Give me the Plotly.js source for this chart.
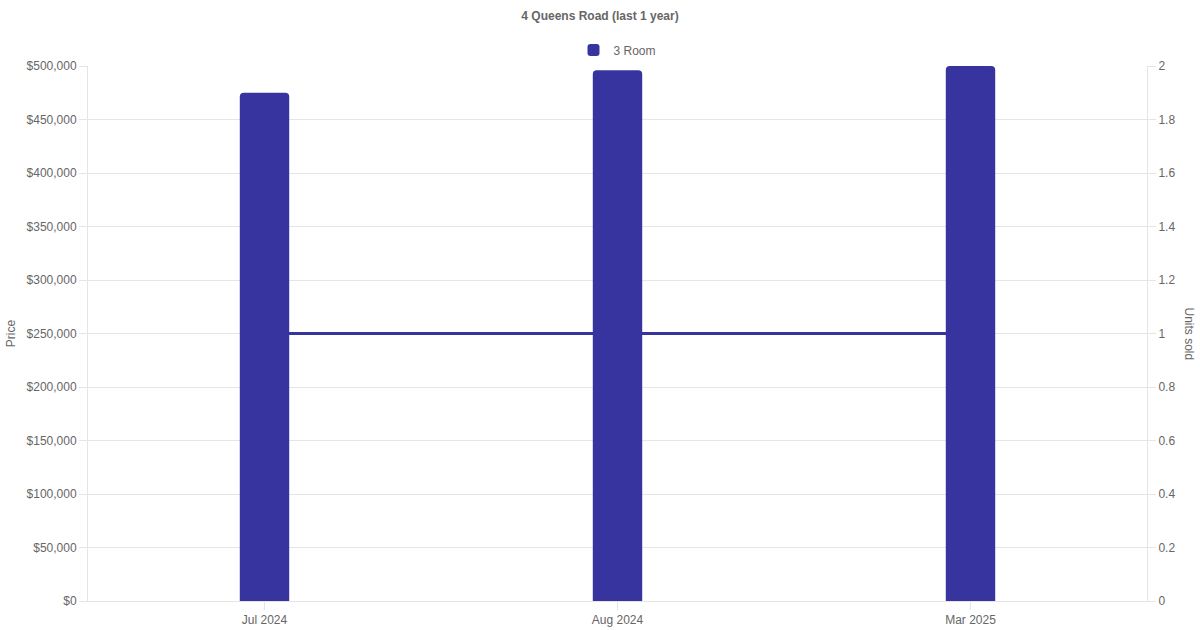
<!DOCTYPE html>
<html>
<head>
<meta charset="utf-8">
<script src="https://cdn.plot.ly/plotly-3.0.1.min.js"></script>
<style>
  html, body { margin: 0; padding: 0; background: #fff; }
  #chart { width: 1200px; height: 630px; }
</style>
</head>
<body>
<div id="chart"></div>
<script>
var months = ['Jul 2024', 'Aug 2024', 'Mar 2025'];
var prices = [475000, 496000, 500000];
var unitsSold = [1, 1, 1];
var seriesName = '3 Room';

var barColor = '#38349f';
var textColor = '#666666';
var gridColor = '#e5e5e5';

// line goes on the primary (right) axis so the bars overlay it
var data = [{
  x: months,
  y: unitsSold,
  type: 'scatter',
  mode: 'lines',
  name: seriesName,
  yaxis: 'y',
  line: {color: barColor, width: 3},
  showlegend: false,
  hoverinfo: 'skip'
}, {
  x: months,
  y: prices,
  type: 'bar',
  name: seriesName,
  yaxis: 'y2',
  width: 0.14,
  marker: {color: barColor, line: {width: 0}}
}];

var layout = {
  width: 1200,
  height: 630,
  margin: {l: 88, r: 53, t: 66, b: 29},
  paper_bgcolor: '#fff',
  plot_bgcolor: '#fff',
  font: {family: 'Liberation Sans, Arial, sans-serif', size: 12, color: textColor},
  barcornerradius: 4,
  title: {
    text: '<b>4 Queens Road (last 1 year)</b>',
    x: 0.5, xanchor: 'center',
    y: 0.975, yanchor: 'middle',
    font: {size: 12, color: textColor}
  },
  showlegend: true,
  legend: {
    orientation: 'h',
    x: 0.5, xanchor: 'center',
    y: 1.03, yanchor: 'middle',
    font: {size: 12, color: textColor}
  },
  xaxis: {
    type: 'category',
    range: [-0.5, 2.5],
    showgrid: false,
    showline: true,
    linecolor: gridColor,
    ticks: 'outside',
    ticklen: 8,
    tickcolor: gridColor,
    zeroline: false,
    tickfont: {size: 12, color: textColor}
  },
  yaxis: {
    side: 'right',
    range: [0, 2],
    dtick: 0.2,
    showgrid: false,
    zeroline: false,
    showline: true,
    linecolor: gridColor,
    ticks: 'outside',
    ticklen: 8,
    tickcolor: gridColor,
    tickfont: {size: 12, color: textColor}
  },
  yaxis2: {
    overlaying: 'y',
    side: 'left',
    range: [0, 500000],
    dtick: 50000,
    tickprefix: '$',
    tickformat: ',d',
    showgrid: true,
    gridcolor: gridColor,
    zeroline: false,
    showline: true,
    linecolor: gridColor,
    ticks: 'outside',
    ticklen: 8,
    tickcolor: gridColor,
    tickfont: {size: 12, color: textColor},
    title: {text: 'Price', font: {size: 12, color: textColor}, standoff: 8}
  },
  annotations: [{
    text: 'Units sold',
    xref: 'paper', yref: 'paper',
    x: 1, xshift: 51, y: 0.5,
    showarrow: false,
    textangle: 90,
    font: {size: 12, color: textColor}
  }]
};

Plotly.newPlot('chart', data, layout, {displayModeBar: false, staticPlot: true});
</script>
</body>
</html>
